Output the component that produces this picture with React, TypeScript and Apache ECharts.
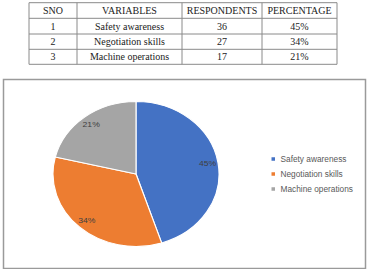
import React, { useEffect, useRef } from "react";
import * as echarts from "echarts";

// Survey table and pie data
const headers = ["SNO", "VARIABLES", "RESPONDENTS", "PERCENTAGE"];
const serialNos = ["1", "2", "3"];
const variables = ["Safety awareness", "Negotiation skills", "Machine operations"];
const respondents = [36, 27, 17];
const percentages = ["45%", "34%", "21%"];
const sliceColors = ["#4472C4", "#ED7D31", "#A5A5A5"];

// Table grid lines
const colEdges = [29, 77, 182, 262, 337];
const rowEdges = [2.7, 18.3, 34, 49.3, 64.3];

const serifFamily = "Liberation Serif";
const sansFamily = "Liberation Sans";

function buildTableGraphics() {
  const els: any[] = [];
  const lineStyle = { stroke: "#8a8a8a", lineWidth: 1 };
  for (const y of rowEdges) {
    els.push({
      type: "line",
      shape: { x1: colEdges[0], y1: y, x2: colEdges[colEdges.length - 1], y2: y },
      style: lineStyle,
    });
  }
  for (const x of colEdges) {
    els.push({
      type: "line",
      shape: { x1: x, y1: rowEdges[0], x2: x, y2: rowEdges[rowEdges.length - 1] },
      style: lineStyle,
    });
  }
  const rows = [
    headers,
    ...serialNos.map((s, i) => [s, variables[i], String(respondents[i]), percentages[i]]),
  ];
  rows.forEach((row, r) => {
    const cy = (rowEdges[r] + rowEdges[r + 1]) / 2;
    row.forEach((txt, c) => {
      const cx = (colEdges[c] + colEdges[c + 1]) / 2;
      els.push({
        type: "text",
        x: cx,
        y: cy,
        style: {
          text: txt,
          fill: "#222",
          fontSize: 10,
          fontFamily: serifFamily,
          align: "center",
          verticalAlign: "middle",
        },
      });
    });
  });
  return els;
}

function buildLegendGraphics() {
  const els: any[] = [];
  variables.forEach((name, i) => {
    const cy = 159 + i * 15;
    els.push({
      type: "rect",
      shape: { x: 271.5, y: cy - 1.75, width: 3.5, height: 3.5 },
      style: { fill: sliceColors[i] },
    });
    els.push({
      type: "text",
      x: 280.5,
      y: cy,
      style: {
        text: name,
        fill: "#595959",
        fontSize: 8.3,
        fontFamily: sansFamily,
        align: "left",
        verticalAlign: "middle",
      },
    });
  });
  return els;
}

export default function App() {
  const bgRef = useRef<HTMLDivElement>(null);
  const pieRef = useRef<HTMLDivElement>(null);

  useEffect(() => {
    if (!bgRef.current || !pieRef.current) return;
    const bg = echarts.init(bgRef.current, undefined, { renderer: "svg" });
    bg.setOption({
      animation: false,
      graphic: [
        {
          type: "rect",
          shape: { x: 3.5, y: 79.5, width: 362, height: 189 },
          style: { fill: "#fff", stroke: "#9a9a9a", lineWidth: 1.5 },
        },
        ...buildTableGraphics(),
        ...buildLegendGraphics(),
      ],
    });

    const pie = echarts.init(pieRef.current, undefined, { renderer: "svg" });
    const pieData = variables.map((name, i) => ({
      name,
      value: respondents[i],
      itemStyle: { color: sliceColors[i] },
    }));
    pie.setOption({
      animation: false,
      series: [
        {
          type: "pie",
          radius: 72.5,
          center: ["50%", "50%"],
          startAngle: 90,
          clockwise: true,
          percentPrecision: 0,
          itemStyle: { borderColor: "#fff", borderWidth: 1 },
          label: { show: false },
          labelLine: { show: false },
          emphasis: { disabled: true },
          data: pieData,
        },
        {
          // transparent ring used only to place the percentage labels near the rim
          type: "pie",
          radius: [48, 72.5],
          center: ["50%", "50%"],
          startAngle: 90,
          clockwise: true,
          percentPrecision: 0,
          silent: true,
          itemStyle: { color: "rgba(0,0,0,0)", borderWidth: 0 },
          label: {
            show: true,
            position: "inside",
            formatter: "{d}%",
            color: "#404040",
            fontSize: 7.5,
            fontFamily: sansFamily,
          },
          labelLine: { show: false },
          emphasis: { disabled: true },
          data: variables.map((name, i) => ({ name, value: respondents[i] })),
        },
      ],
    });

    return () => {
      bg.dispose();
      pie.dispose();
    };
  }, []);

  return (
    <div style={{ position: "fixed", left: 0, top: 0, width: 373, height: 269, background: "#fff" }}>
      <div ref={bgRef} style={{ position: "absolute", left: 0, top: 0, width: 373, height: 269 }} />
      <div
        ref={pieRef}
        style={{
          position: "absolute",
          left: 61,
          top: 99,
          width: 150,
          height: 150,
          transform: "scaleX(1.145)",
          transformOrigin: "50% 50%",
        }}
      />
    </div>
  );
}
